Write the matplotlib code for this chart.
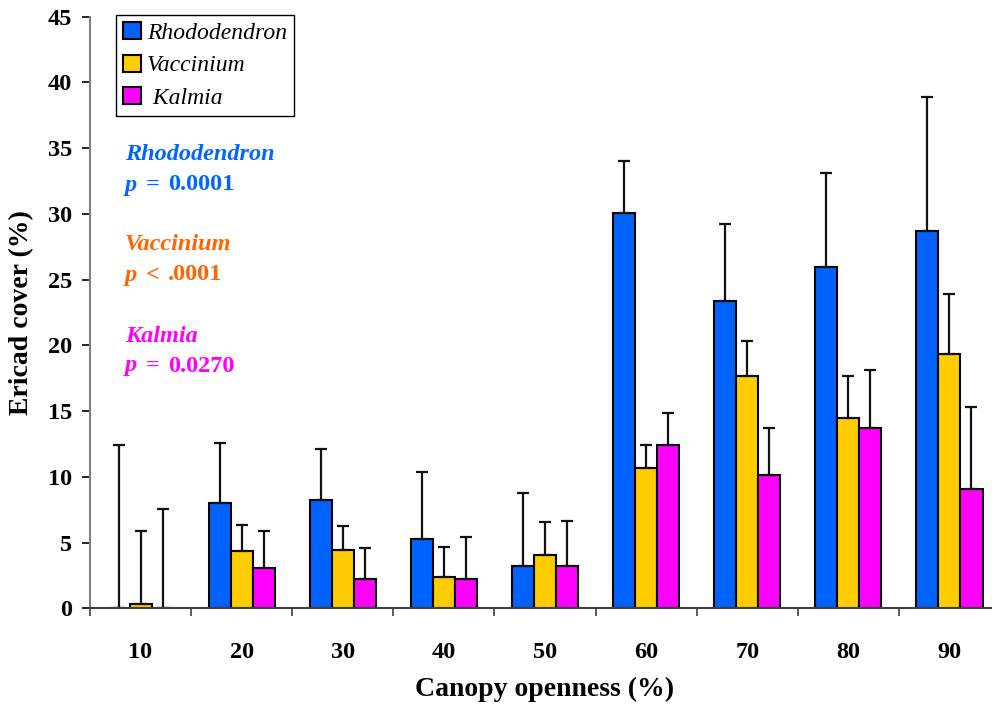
import numpy as np
import matplotlib
matplotlib.use("Agg")
import matplotlib.pyplot as plt

plt.rcParams['font.family'] = ['Liberation Serif', 'DejaVu Serif']

# canopy openness classes and mean ericad cover (+ SE) per genus
openness = ['10', '20', '30', '40', '50', '60', '70', '80', '90']
rhodo = [0, 8.0, 8.25, 5.25, 3.25, 30.1, 23.35, 25.95, 28.7]
rhodo_se = [12.45, 4.6, 3.9, 5.1, 5.55, 3.9, 5.9, 7.15, 10.2]
vacc = [0.3, 4.35, 4.45, 2.4, 4.05, 10.65, 17.65, 14.45, 19.35]
vacc_se = [5.6, 2.0, 1.8, 2.3, 2.5, 1.75, 2.7, 3.2, 4.55]
kalm = [0, 3.05, 2.2, 2.25, 3.25, 12.45, 10.15, 13.7, 9.1]
kalm_se = [7.55, 2.8, 2.4, 3.15, 3.4, 2.4, 3.55, 4.4, 6.2]

series = [('Rhododendron', rhodo, rhodo_se, '#0062FF'),
          ('Vaccinium', vacc, vacc_se, '#FFCC00'),
          (' Kalmia', kalm, kalm_se, '#FF00FF')]

fig = plt.figure(figsize=(9.92, 7.04), dpi=100)
ax = fig.add_axes([90 / 992, 1 - 608.3 / 704, 910 / 992, 591.6 / 704])

x = np.arange(len(openness))
w = 0.218
for i, (name, vals, se, col) in enumerate(series):
    pos = x + (i - 1) * w
    ax.bar(pos, vals, width=w, color=col, edgecolor='black', linewidth=1.5,
           label=name, zorder=2)
    ax.errorbar(pos, vals, yerr=[np.zeros(len(se)), se], fmt='none',
                ecolor='#111111', elinewidth=1.6, capsize=4, capthick=1.6,
                zorder=3)

ax.set_xlim(-0.5, 8.5)
ax.set_ylim(0, 45)
ax.set_yticks(np.arange(0, 46, 5))
ax.tick_params(axis='y', direction='out', length=6, width=1.2, pad=7,
               labelsize=17.5)
for lab in ax.get_yticklabels():
    lab.set_fontweight('bold')

# group separators as major ticks, category names as minor ticks
ax.set_xticks(np.arange(-0.5, 9, 1))
ax.set_xticklabels([])
ax.tick_params(axis='x', which='major', direction='out', length=6, width=1.2,
               color='#404040')
ax.set_xticks(x, minor=True)
ax.set_xticklabels(openness, minor=True, fontsize=17.5, fontweight='bold')
ax.tick_params(axis='x', which='minor', length=0, pad=24)

for s in ['top', 'right']:
    ax.spines[s].set_visible(False)
ax.spines['left'].set_color('#808080')
ax.spines['left'].set_linewidth(1.5)
ax.spines['bottom'].set_color('#404040')
ax.spines['bottom'].set_linewidth(1.5)
ax.spines['bottom'].set_zorder(4)

ax.set_xlabel('Canopy openness (%)', fontsize=20, fontweight='bold', labelpad=10)
ax.set_ylabel('Ericad cover (%)', fontsize=20, fontweight='bold', labelpad=10)

leg = ax.legend(loc='upper left', bbox_to_anchor=(116 / 992, 1 - 15 / 704),
                bbox_transform=fig.transFigure, borderaxespad=0,
                frameon=True, fancybox=False,
                edgecolor='black', framealpha=1, borderpad=0.3,
                handlelength=0.75, handleheight=0.75, handletextpad=0.25,
                labelspacing=0.45, prop={'size': 17, 'style': 'italic'})
leg.get_frame().set_linewidth(1.0)

# significance notes
notes = [('Rhododendron', '=', '0.0001', '#0066FF', 155),
         ('Vaccinium', '<', '.0001', '#FF6600', 245),
         ('Kalmia', '=', '0.0270', '#FF00FF', 336)]
for name, op, pval, col, yc in notes:
    fig.text(125 / 992, 1 - yc / 704, name, color=col, fontsize=17.5,
             fontweight='bold', style='italic', va='center')
    fig.text(125 / 992, 1 - (yc + 30) / 704, 'p', color=col, fontsize=17.5,
             fontweight='bold', style='italic', va='center')
    fig.text(146 / 992, 1 - (yc + 30) / 704, op, color=col, fontsize=17.5,
             fontweight='bold', va='center')
    fig.text(168 / 992, 1 - (yc + 30) / 704, pval, color=col, fontsize=17.5,
             fontweight='bold', va='center')

fig.savefig('out.png', dpi=100)
